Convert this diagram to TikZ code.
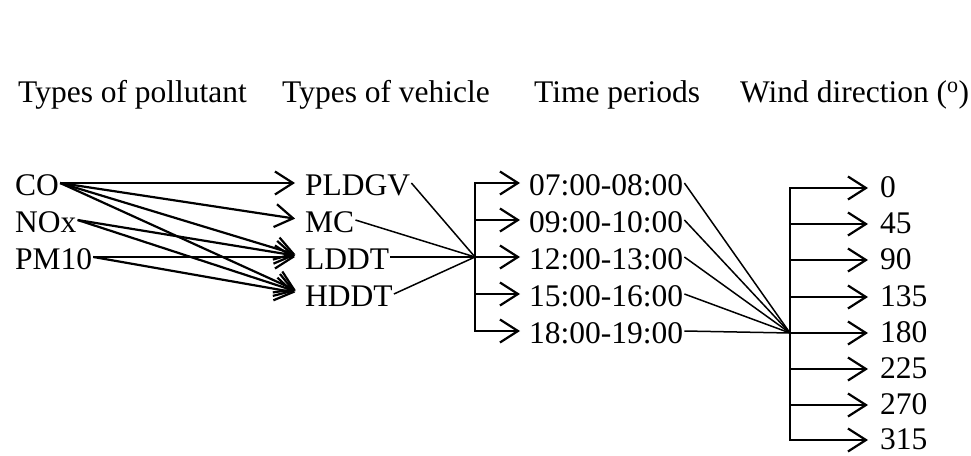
\documentclass[tikz,border=0pt]{standalone}
\usepackage{fontspec}
\setmainfont{Liberation Serif}
\usepackage{tikz}
\usetikzlibrary{arrows.meta}

\begin{document}
\begin{tikzpicture}[x=1pt, y=-1pt,
		every node/.style={font=\fontsize{31.5}{36}\selectfont},
		head/.style={anchor=base west, inner sep=0pt},
		item/.style={anchor=west, inner sep=1pt, text height=24pt, text depth=0pt},
		windval/.style={anchor=west, inner sep=1pt, text height=18pt, text depth=0pt},
		link/.style={-{Straight Barb[length=18pt, width=23pt]}, line width=2.2pt, shorten >=9pt},
		fan/.style={line width=1.5pt},
		bar/.style={line width=2.2pt, line cap=rect}]
		\useasboundingbox (0,0) rectangle (971,455);
		
		% Headings
		\node[head] (hpol) at (18,102) {Types of pollutant};
		\node[head] (hveh) at (282,102) {Types of vehicle};
		\node[head] (htim) at (534,102) {Time periods};
		\node[head] (hwin) at (740,102) {Wind direction (\textsuperscript{o})};
		
		% Pollutants
		\node[item] (co) at (14,183) {CO};
		\node[item] (nox) at (14,220) {NOx};
		\node[item] (pm) at (14,257) {PM10};
		
		% Vehicles
		\node[item] (pldgv) at (304,183) {PLDGV};
		\node[item] (mc) at (304,220) {MC};
		\node[item] (lddt) at (304,257) {LDDT};
		\node[item] (hddt) at (304,294) {HDDT};
		
		% Time periods
		\node[item] (t1) at (528,183) {07:00-08:00};
		\node[item] (t2) at (528,220) {09:00-10:00};
		\node[item] (t3) at (528,257) {12:00-13:00};
		\node[item] (t4) at (528,294) {15:00-16:00};
		\node[item] (t5) at (528,331) {18:00-19:00};
		
		% Wind directions
		\node[windval] (w0) at (879,188) {0};
		\node[windval] (w45) at (879,224) {45};
		\node[windval] (w90) at (879,260) {90};
		\node[windval] (w135) at (879,297) {135};
		\node[windval] (w180) at (879,333) {180};
		\node[windval] (w225) at (879,369) {225};
		\node[windval] (w270) at (879,405) {270};
		\node[windval] (w315) at (879,440) {315};
		
		% Junctions
		\coordinate (vj) at (475,257);
		\coordinate (tj) at (790,333);
		
		% Pollutant -> vehicle
		\draw[link] (co.east) -- (pldgv.west);
		\draw[link] (co.east) -- (mc.west);
		\draw[link] (co.east) -- (lddt.west);
		\draw[link] (co.east) -- (hddt.west);
		\draw[link] (nox.east) -- (lddt.west);
		\draw[link] (nox.east) -- (hddt.west);
		\draw[link] (pm.east) -- (lddt.west);
		\draw[link] (pm.east) -- (hddt.west);
		
		% Vehicle -> time periods
		\draw[fan] (pldgv.east) -- (vj);
		\draw[fan] (mc.east) -- (vj);
		\draw[fan] (lddt.east) -- (vj);
		\draw[fan] (hddt.east) -- (vj);
		\draw[bar] (vj |- t1.west) -- (vj |- t5.west);
		\draw[link, shorten >=8pt] (vj |- t1.west) -- (t1.west);
		\draw[link, shorten >=8pt] (vj |- t2.west) -- (t2.west);
		\draw[link, shorten >=8pt] (vj |- t3.west) -- (t3.west);
		\draw[link, shorten >=8pt] (vj |- t4.west) -- (t4.west);
		\draw[link, shorten >=8pt] (vj |- t5.west) -- (t5.west);
		
		% Time periods -> wind direction
		\draw[fan] (t1.east) -- (tj);
		\draw[fan] (t2.east) -- (tj);
		\draw[fan] (t3.east) -- (tj);
		\draw[fan] (t4.east) -- (tj);
		\draw[fan] (t5.east) -- (tj);
		\draw[bar] (tj |- w0.west) -- (tj |- w315.west);
		\draw[link, shorten >=11pt] (tj |- w0.west) -- (w0.west);
		\draw[link, shorten >=11pt] (tj |- w45.west) -- (w45.west);
		\draw[link, shorten >=11pt] (tj |- w90.west) -- (w90.west);
		\draw[link, shorten >=11pt] (tj |- w135.west) -- (w135.west);
		\draw[link, shorten >=11pt] (tj |- w180.west) -- (w180.west);
		\draw[link, shorten >=11pt] (tj |- w225.west) -- (w225.west);
		\draw[link, shorten >=11pt] (tj |- w270.west) -- (w270.west);
		\draw[link, shorten >=11pt] (tj |- w315.west) -- (w315.west);
	\end{tikzpicture}
\end{document}
